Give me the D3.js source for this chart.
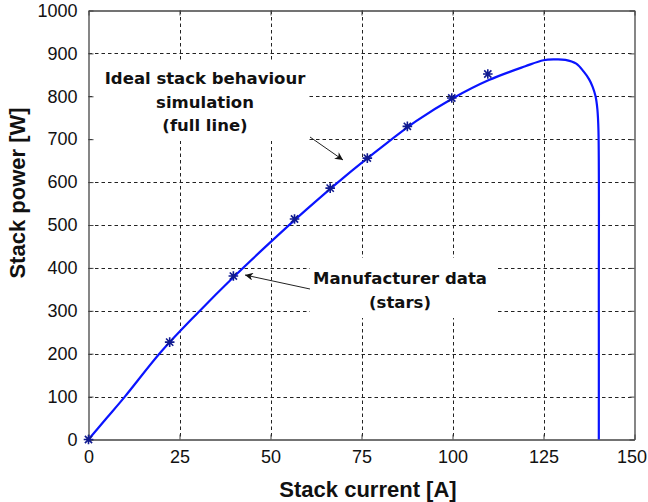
<!DOCTYPE html>
<html>
<head>
<meta charset="utf-8">
<script src="https://cdn.jsdelivr.net/npm/d3@7"></script>
<style>
  html, body { margin: 0; padding: 0; background: #fff; }
  svg { display: block; }
  text { font-family: Arial, "Liberation Sans", sans-serif; fill: #111; }
</style>
</head>
<body>
<svg id="chart" width="648" height="502"></svg>
<script>
// Simulated power curve (stack current in A, power in W)
const simCurrent = [0, 5, 10, 20, 30, 40, 50, 60, 70, 80, 90, 100, 110, 120, 125, 128, 131, 134, 136, 137.5, 138.5, 139.3, 139.8, 140.1, 140.2, 140.2];
const simPower   = [0, 50, 100, 205, 295, 380, 460, 537, 610, 678, 742, 795, 838, 870, 884, 886, 885, 876, 858, 840, 822, 800, 770, 720, 300, 0];

// Manufacturer data points
const mfrCurrent = [0, 22.3, 39.8, 56.6, 66.4, 76.6, 87.6, 99.8, 109.7];
const mfrPower   = [0, 227, 381, 514, 586, 656, 730, 796, 852];

// Axis ticks
const xTicks = [0, 25, 50, 75, 100, 125, 150];
const yTicks = [0, 100, 200, 300, 400, 500, 600, 700, 800, 900, 1000];

const svg = d3.select("#chart");
const plotL = 88.5, plotR = 634.5, plotT = 10.5, plotB = 439.5;

const x = d3.scaleLinear().domain([0, 150]).range([plotL, plotR]);
const y = d3.scaleLinear().domain([0, 1000]).range([plotB, plotT]);

// Dashed grid
const grid = svg.append("g").attr("stroke", "#222").attr("stroke-width", 1)
  .attr("stroke-dasharray", "3.5,3");
grid.selectAll("line.gx").data(xTicks.slice(1, -1)).join("line").attr("class", "gx")
  .attr("x1", d => Math.round(x(d)) + 0.5).attr("x2", d => Math.round(x(d)) + 0.5)
  .attr("y1", plotT).attr("y2", plotB);
grid.selectAll("line.gy").data(yTicks.slice(1, -1)).join("line").attr("class", "gy")
  .attr("y1", d => Math.round(y(d)) + 0.5).attr("y2", d => Math.round(y(d)) + 0.5)
  .attr("x1", plotL).attr("x2", plotR);

// Annotation boxes hide the grid beneath the text
svg.append("rect").attr("x", 92).attr("y", 62).attr("width", 217).attr("height", 79).attr("fill", "#fff");
svg.append("rect").attr("x", 310).attr("y", 258).attr("width", 186).attr("height", 60).attr("fill", "#fff");

// Axes: bottom/left with labels, top/right mirrored ticks only
const axB = d3.axisBottom(x).tickValues(xTicks).tickFormat(d3.format("d"))
  .tickSizeInner(-5).tickSizeOuter(0).tickPadding(11);
const axL = d3.axisLeft(y).tickValues(yTicks).tickFormat(d3.format("d"))
  .tickSizeInner(-5).tickSizeOuter(0).tickPadding(11);
const axT = d3.axisTop(x).tickValues(xTicks).tickSizeInner(-5).tickSizeOuter(0).tickFormat("");
const axR = d3.axisRight(y).tickValues(yTicks).tickSizeInner(-5).tickSizeOuter(0).tickFormat("");

function styleAxis(g) {
  g.select(".domain").attr("stroke", "#444").attr("stroke-width", 1.3);
  g.selectAll(".tick line").attr("stroke", "#444");
  g.selectAll(".tick text").attr("font-size", 18).attr("fill", "#111")
    .attr("font-family", "Arial, 'Liberation Sans', sans-serif");
}
const gB = svg.append("g").attr("transform", `translate(0,${plotB})`).call(axB).call(styleAxis);
// keep the last label inside the window edge
gB.selectAll(".tick text").filter(d => d === 150).attr("dx", -3);
svg.append("g").attr("transform", `translate(${plotL},0)`).call(axL).call(styleAxis);
svg.append("g").attr("transform", `translate(0,${plotT})`).call(axT).call(styleAxis);
svg.append("g").attr("transform", `translate(${plotR},0)`).call(axR).call(styleAxis);

// Simulation curve
svg.append("path").datum(simPower)
  .attr("d", d3.line().x((d, i) => x(simCurrent[i])).y(d => y(d)).curve(d3.curveCatmullRom.alpha(0.5)))
  .attr("fill", "none").attr("stroke", "#0a14ff").attr("stroke-width", 2.2)
  .attr("stroke-linejoin", "round");

// Star markers (plus + cross)
const s = 4.8, sd = 3.6;
const starPath = `M${-s},0L${s},0M0,${-s}L0,${s}M${-sd},${-sd}L${sd},${sd}M${-sd},${sd}L${sd},${-sd}`;
svg.append("g").selectAll("path").data(mfrPower).join("path")
  .attr("transform", (d, i) => `translate(${x(mfrCurrent[i])},${y(d)})`)
  .attr("d", starPath).attr("stroke", "#101a90").attr("stroke-width", 1.6).attr("fill", "none");

// Annotations
const annFont = "'DejaVu Sans', Verdana, sans-serif";
const ann = svg.append("g").attr("font-weight", "bold").attr("font-size", 16.5)
  .attr("text-anchor", "middle");
[["Ideal stack behaviour", 84], ["simulation", 108], ["(full line)", 131]].forEach(([t, yy]) =>
  ann.append("text").attr("x", 205).attr("y", yy).style("font-family", annFont).text(t));
[["Manufacturer data", 284], ["(stars)", 308]].forEach(([t, yy]) =>
  ann.append("text").attr("x", 400).attr("y", yy).style("font-family", annFont).text(t));

// Arrows
svg.append("defs").append("marker").attr("id", "ah").attr("viewBox", "0 0 10 10")
  .attr("refX", 10).attr("refY", 5).attr("markerWidth", 10).attr("markerHeight", 8)
  .attr("markerUnits", "userSpaceOnUse").attr("orient", "auto")
  .append("path").attr("d", "M0,0L10,5L0,10L3,5Z").attr("fill", "#111");
svg.append("line").attr("x1", 310).attr("y1", 137).attr("x2", 343).attr("y2", 160)
  .attr("stroke", "#222").attr("stroke-width", 1).attr("marker-end", "url(#ah)");
svg.append("line").attr("x1", 310).attr("y1", 289).attr("x2", 245).attr("y2", 275)
  .attr("stroke", "#222").attr("stroke-width", 1).attr("marker-end", "url(#ah)");

// Axis titles
svg.append("text").attr("x", 368).attr("y", 497).attr("text-anchor", "middle")
  .attr("font-weight", "bold").attr("font-size", 22).text("Stack current [A]");
svg.append("text").attr("transform", "translate(25,193) rotate(-90)")
  .attr("text-anchor", "middle").attr("font-weight", "bold").attr("font-size", 22).text("Stack power [W]");
</script>
</body>
</html>
